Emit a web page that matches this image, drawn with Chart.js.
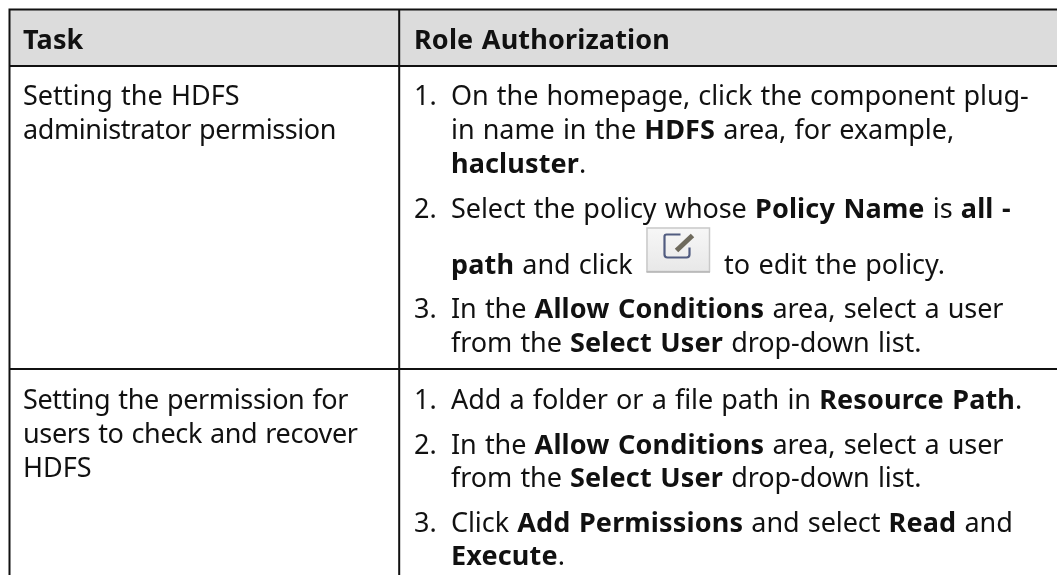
<!DOCTYPE html>
<html>
<head>
<meta charset="utf-8">
<script src="https://cdn.jsdelivr.net/npm/chart.js@4"></script>
<style>
html, body { margin: 0; padding: 0; background: #fff; }
#wrap { width: 1057px; height: 575px; }
</style>
</head>
<body>
<div id="wrap"><canvas id="tabla" width="1057" height="575"></canvas></div>
<script>
// table geometry, in scale units
var columnEdges = [9.5, 399.2, 1057];
var rowEdges = [9.5, 66, 369];
var headerLabels = ['Task', 'Role Authorization'];

// each line: baseline y, then text; a run starting with * is bold
var headerY = [48.5];
var taskLines = [
    [105, 'Setting the HDFS'],
    [139, 'administrator permission'],
    [409, 'Setting the permission for'],
    [443, 'users to check and recover'],
    [477, 'HDFS']
];
var stepNumbers = [
    [105, '1.'], [217.5, '2.'], [318, '3.'],
    [409, '1.'], [454, '2.'], [532, '3.']
];
var stepLines = [
    [105, ['On the homepage, click the component plug-']],
    [139, ['in name in the ', '*HDFS', ' area, for example,']],
    [173, ['*hacluster', '.']],
    [217.5, ['Select the policy whose ', '*Policy Name', ' is ', '*all -']],
    [274, ['*path', ' and click']],
    [318, ['In the ', '*Allow Conditions', ' area, select a user']],
    [352, ['from the ', '*Select User', ' drop-down list.']],
    [409, ['Add a folder or a file path in ', '*Resource Path', '.']],
    [454, ['In the ', '*Allow Conditions', ' area, select a user']],
    [487, ['from the ', '*Select User', ' drop-down list.']],
    [532, ['Click ', '*Add Permissions', ' and select ', '*Read', ' and']],
    [565, ['*Execute', '.']]
];
var afterIconLine = [274, 'to edit the policy.'];
var iconBox = [646.5, 710, 227.5, 272];

var fontFamily = '"Noto Sans", sans-serif';
var fontSize = 27;
// Noto runs wider than the original font on lowercase text
var taskSpacing = [0, -0.4, -0.35, -0.35, 0];

function dibujarRuns(ctx, x, y, runs, spacing) {
    runs.forEach(function (run) {
        var bold = run.charAt(0) === '*';
        var texto = bold ? run.substring(1) : run;
        ctx.font = (bold ? 'bold ' : '') + fontSize + 'px ' + fontFamily;
        ctx.letterSpacing = (bold ? 0.15 : spacing) + 'px';
        ctx.wordSpacing = '1.3px';
        ctx.fillText(texto, x, y);
        x += ctx.measureText(texto).width;
    });
}

function dibujarIcono(ctx, sx, sy) {
    var x0 = sx.getPixelForValue(iconBox[0]), x1 = sx.getPixelForValue(iconBox[1]);
    var y0 = sy.getPixelForValue(iconBox[2]), y1 = sy.getPixelForValue(iconBox[3]);
    var grad = ctx.createLinearGradient(0, y0, 0, y1);
    grad.addColorStop(0, '#f7f7f7');
    grad.addColorStop(1, '#e8e8e8');
    ctx.fillStyle = grad;
    ctx.fillRect(x0, y0, x1 - x0, y1 - y0);
    ctx.strokeStyle = '#c9c9c9';
    ctx.lineWidth = 1.5;
    ctx.strokeRect(x0 + 0.5, y0 + 0.5, x1 - x0 - 1, y1 - y0 - 1);
    ctx.strokeStyle = '#b5b5b5';
    ctx.beginPath();
    ctx.moveTo(x0, y1);
    ctx.lineTo(x1, y1);
    ctx.stroke();
    // square of the edit glyph, open at the top right
    ctx.strokeStyle = '#515c80';
    ctx.lineWidth = 2.2;
    ctx.beginPath();
    ctx.moveTo(x0 + 34, y0 + 7);
    ctx.lineTo(x0 + 20, y0 + 7);
    ctx.quadraticCurveTo(x0 + 18, y0 + 7, x0 + 18, y0 + 9);
    ctx.lineTo(x0 + 18, y0 + 27);
    ctx.quadraticCurveTo(x0 + 18, y0 + 30, x0 + 21, y0 + 30);
    ctx.lineTo(x0 + 40, y0 + 30);
    ctx.quadraticCurveTo(x0 + 43, y0 + 30, x0 + 43, y0 + 27);
    ctx.lineTo(x0 + 43, y0 + 20);
    ctx.stroke();
    // pencil
    ctx.strokeStyle = '#6e6a5c';
    ctx.lineWidth = 5;
    ctx.beginPath();
    ctx.moveTo(x0 + 30, y0 + 23);
    ctx.lineTo(x0 + 46, y0 + 8);
    ctx.stroke();
}

var tablaPlugin = {
    id: 'tabla',
    beforeDatasetsDraw: function (chart) {
        var ctx = chart.ctx, sx = chart.scales.x, sy = chart.scales.y;
        ctx.save();
        // header band
        ctx.fillStyle = '#dcdcdc';
        ctx.fillRect(sx.getPixelForValue(columnEdges[0]), sy.getPixelForValue(rowEdges[0]),
            sx.getPixelForValue(columnEdges[2]) - sx.getPixelForValue(columnEdges[0]),
            sy.getPixelForValue(rowEdges[1]) - sy.getPixelForValue(rowEdges[0]));
        // borders
        ctx.strokeStyle = '#111';
        ctx.lineWidth = 2;
        ctx.beginPath();
        columnEdges.slice(0, 2).forEach(function (c) {
            ctx.moveTo(sx.getPixelForValue(c), sy.getPixelForValue(rowEdges[0]) - 1);
            ctx.lineTo(sx.getPixelForValue(c), sy.bottom);
        });
        rowEdges.forEach(function (r) {
            ctx.moveTo(sx.getPixelForValue(columnEdges[0]), sy.getPixelForValue(r));
            ctx.lineTo(sx.right, sy.getPixelForValue(r));
        });
        ctx.stroke();
        // text
        ctx.fillStyle = '#111';
        ctx.textBaseline = 'alphabetic';
        dibujarRuns(ctx, sx.getPixelForValue(23), sy.getPixelForValue(headerY[0]), ['*' + headerLabels[0]], 0);
        dibujarRuns(ctx, sx.getPixelForValue(414), sy.getPixelForValue(headerY[0]), ['*' + headerLabels[1]], 0);
        taskLines.forEach(function (l, i) {
            dibujarRuns(ctx, sx.getPixelForValue(23), sy.getPixelForValue(l[0]), [l[1]], taskSpacing[i]);
        });
        stepNumbers.forEach(function (l) {
            dibujarRuns(ctx, sx.getPixelForValue(414), sy.getPixelForValue(l[0]), [l[1]], 0);
        });
        stepLines.forEach(function (l) {
            dibujarRuns(ctx, sx.getPixelForValue(451), sy.getPixelForValue(l[0]), l[1], -0.08);
        });
        dibujarRuns(ctx, sx.getPixelForValue(724), sy.getPixelForValue(afterIconLine[0]), [afterIconLine[1]], 0);
        dibujarIcono(ctx, sx, sy);
        ctx.restore();
    }
};

new Chart(document.getElementById('tabla'), {
    type: 'scatter',
    data: { datasets: [{ data: [], pointRadius: 0 }] },
    plugins: [tablaPlugin],
    options: {
        responsive: false,
        animation: false,
        layout: { padding: 0 },
        plugins: { legend: { display: false }, tooltip: { enabled: false } },
        scales: {
            x: { type: 'linear', min: 0, max: 1057, display: false },
            y: { type: 'linear', min: 0, max: 575, reverse: true, display: false }
        }
    }
});
</script>
</body>
</html>
